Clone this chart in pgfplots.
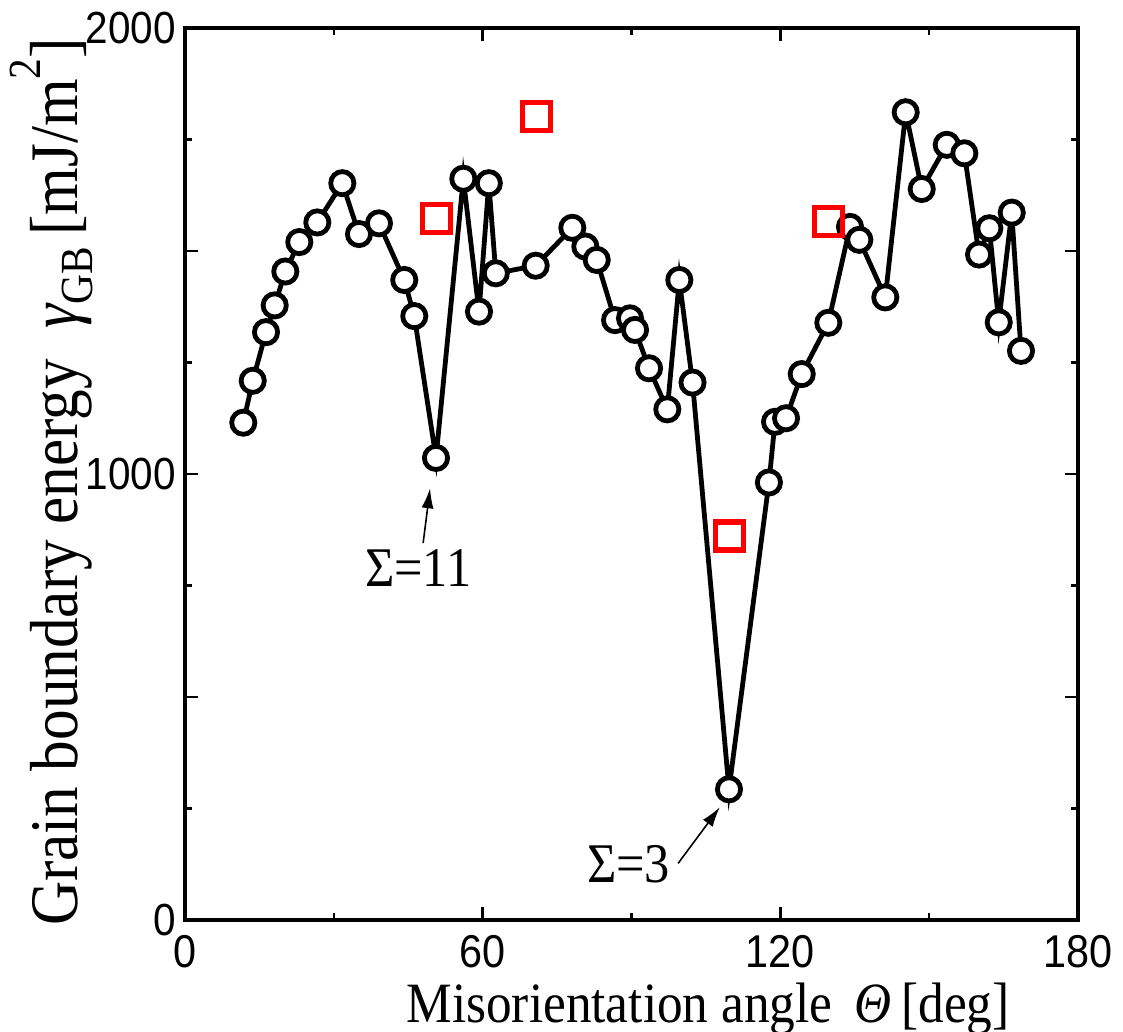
\documentclass[border=0pt]{standalone}
\usepackage{fontspec}
\setmainfont{Liberation Serif}
\newfontfamily\tickfont[FakeStretch=0.9]{Liberation Sans}
\newfontfamily\labelfont[FakeStretch=0.9]{Liberation Serif}
\usepackage{pgfplots}
\pgfplotsset{compat=1.18}
\usetikzlibrary{arrows.meta}
\begin{document}
\begin{tikzpicture}
\begin{axis}[
  at={(0,0)}, anchor=south west,
  scale only axis, width=446.5pt, height=446pt,
  xmin=0, xmax=180, ymin=0, ymax=2000,
  xtick={0,60,120,180}, xticklabels={0,60,120,180},
  minor xtick={30,90,150},
  ytick={0,500,1000,1500,2000}, yticklabels={0,{},1000,{},2000},
  minor ytick={250,750,1250,1750},
  tick align=inside,
  major tick length=6.5pt, minor tick length=3.5pt,
  every tick/.style={black, line width=1.2pt},
  axis line style={line width=1.8pt},
  xticklabel style={font=\tickfont\fontsize{23}{23}\selectfont, inner sep=0pt, yshift=-7.5pt},
  yticklabel style={font=\tickfont\fontsize{22.5}{22.5}\selectfont, inner sep=0pt, xshift=-4.5pt},
  clip=false,
]
\addplot[black, line width=2.4pt, mark=*, mark size=5.8pt,
  mark options={fill=white, draw=black, line width=2.4pt}] coordinates {
(11.75,1115) (13.65,1209) (16.33,1318) (18.08,1378) (20.22,1454)
(23.04,1520) (26.67,1564) (31.71,1652) (35.07,1538) (39.10,1562)
(44.20,1435) (46.22,1354) (50.59,1036) (56.10,1662) (59.26,1364)
(61.24,1652) (62.65,1450) (70.69,1467) (78.07,1552) (80.69,1510)
(82.99,1480) (86.68,1345) (89.70,1349) (90.71,1323) (93.53,1237)
(97.22,1145) (99.64,1435) (102.30,1205) (109.65,293) (117.7,981)
(118.93,1117) (121.15,1125) (124.31,1224) (129.67,1339) (134.04,1554)
(135.92,1525) (141.16,1396) (145.27,1811) (148.50,1639) (153.54,1738)
(157.09,1719) (160.05,1492) (162.13,1551) (164.02,1340) (166.64,1586)
(168.51,1276)
};
\addplot[only marks, red, mark=square, mark size=7pt,
  mark options={line width=2.6pt}] coordinates {
(50.7,1573) (70.8,1801) (109.7,861) (129.7,1566)
};
\draw[line width=0.8pt, -{Latex[length=10pt,width=6pt]}] (axis cs:48.0,845) -- (axis cs:49.4,968);
\draw[line width=0.8pt, -{Latex[length=10pt,width=6pt]}] (axis cs:99.4,127) -- (axis cs:107.8,253);
\node[anchor=base, inner sep=0pt, font=\labelfont\fontsize{28}{28}\selectfont] at (axis cs:47.0,747) {Σ=11};
\node[anchor=base, inner sep=0pt, font=\labelfont\fontsize{28}{28}\selectfont] at (axis cs:89.4,83) {Σ=3};
\end{axis}
\node[anchor=base, inner sep=0pt, font=\labelfont\fontsize{28.5}{28.5}\selectfont] at (261.5pt,-51pt) {Misorientation angle \,{\itshape Θ}\,[deg]};
\node[anchor=base, rotate=90, inner sep=0pt, font=\labelfont\fontsize{34}{34}\selectfont] at (-53.5pt,219pt) {Grain boundary energy \ {\itshape γ}\raisebox{-0.22em}{\fontsize{23}{23}\selectfont GB}\,[mJ/m\raisebox{0.55em}{\fontsize{23}{23}\selectfont 2}]};
\pgfresetboundingbox
\path (-92.5pt,-56pt) rectangle (469pt,460pt);
\end{tikzpicture}
\end{document}
